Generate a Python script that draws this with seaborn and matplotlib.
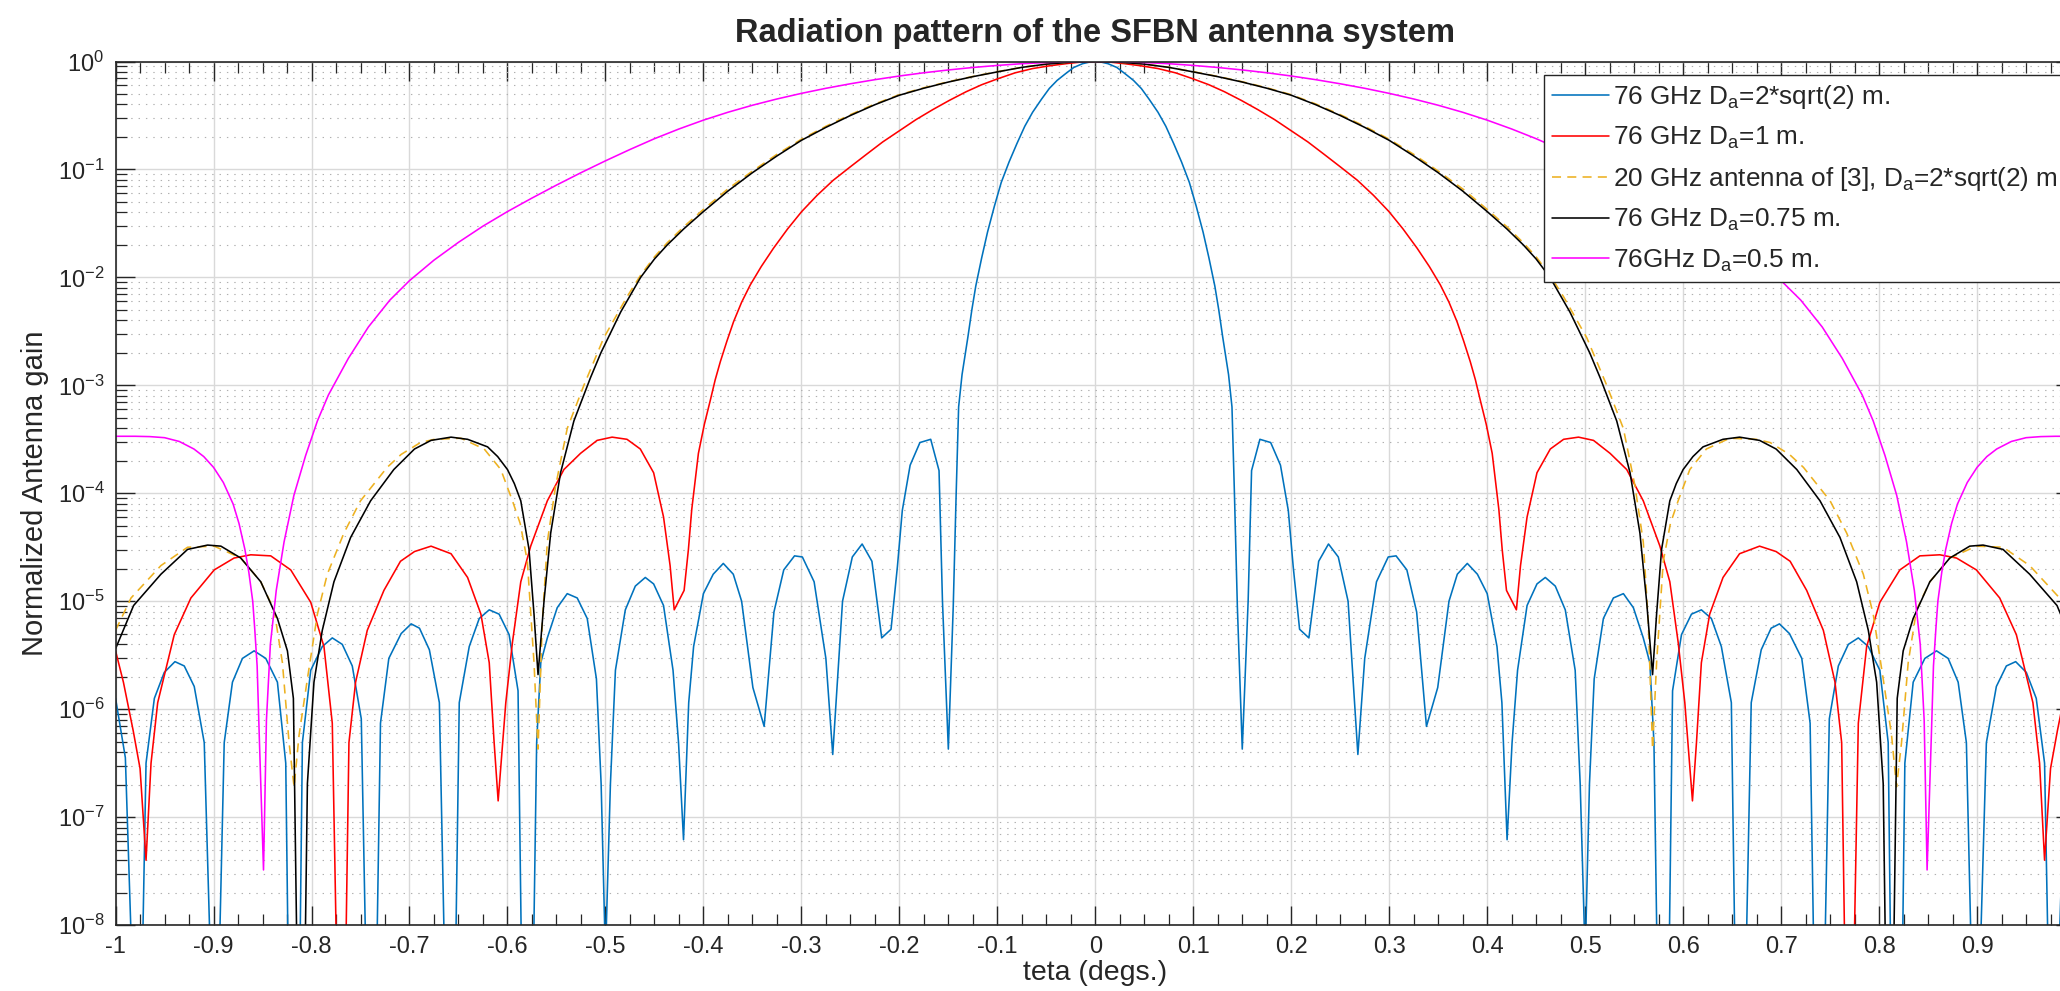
import numpy as np
import matplotlib
matplotlib.use("Agg")
import matplotlib.pyplot as plt
import seaborn as sns
from matplotlib.ticker import LogLocator, MultipleLocator, FuncFormatter

# Patterns are symmetric: values read for teta in [0, 1] deg, gain in dB (10*log10)
teta_blue = [0, 0.006, 0.013, 0.022, 0.030, 0.039, 0.047, 0.055, 0.064, 0.072,
             0.080, 0.088, 0.096, 0.103, 0.110, 0.116, 0.122, 0.126, 0.130, 0.136,
             0.1395, 0.142, 0.145, 0.150, 0.156, 0.1595, 0.168, 0.179, 0.189,
             0.197, 0.202, 0.2085, 0.218, 0.228, 0.238, 0.248, 0.258, 0.268, 0.275,
             0.287, 0.299, 0.307, 0.318, 0.328, 0.338, 0.3495, 0.361, 0.3695, 0.3797,
             0.39, 0.40, 0.41, 0.415, 0.4203, 0.4254, 0.431, 0.4407, 0.4508, 0.4593,
             0.4695, 0.4797, 0.4898, 0.4949, 0.500, 0.5044, 0.5092, 0.5186, 0.5288, 0.539,
             0.5492, 0.5593, 0.566, 0.5702, 0.5746, 0.5847, 0.5892, 0.5983, 0.6085, 0.6186,
             0.6288, 0.639, 0.6492, 0.654, 0.6627, 0.6695, 0.6797, 0.6898, 0.6983, 0.7085,
             0.7211, 0.7296, 0.7346, 0.7431, 0.7492, 0.7584, 0.7686, 0.7788, 0.789, 0.8008,
             0.8093, 0.8127, 0.8229, 0.8263, 0.8348, 0.8467, 0.8586, 0.8705, 0.8807, 0.8891,
             0.8959, 0.901, 0.9095, 0.9197, 0.9299, 0.9394, 0.9503, 0.9604, 0.9689, 0.974,
             0.981, 0.990, 1.0]
gain_blue = [0, -0.05, -0.2, -0.55, -1.1, -1.75, -2.5, -3.5, -4.7, -6.0,
             -7.6, -9.3, -11.2, -13.4, -15.8, -18.2, -20.8, -23.0, -25.5, -29.0,
             -32.0, -40.0, -50.5, -63.7, -50.0, -37.9, -35.0, -35.3, -37.4,
             -41.6, -46.8, -52.6, -53.4, -46.3, -44.7, -45.9, -50.0, -64.2, -55.3,
             -48.2, -45.9, -45.8, -47.1, -51.0, -61.6, -58.0, -50.0, -47.5, -46.5,
             -47.5, -49.3, -54.2, -59.4, -72.1, -63.1, -56.4, -50.4, -48.4, -47.8,
             -48.6, -50.8, -56.4, -66.9, -83.0, -66.9, -57.2, -51.6, -49.7, -49.3,
             -50.6, -53.4, -55.7, -63.1, -90, -90, -58.3, -53.1, -51.2, -50.8,
             -51.6, -54.2, -59.4, -90, -90, -59.4, -54.5, -52.5, -52.1, -53.0,
             -55.3, -61.3, -90, -90, -60.9, -56.0, -54.0, -53.4, -54.2, -56.4,
             -63.1, -90, -90, -65.0, -57.5, -55.3, -54.6, -55.3, -57.5, -63.1,
             -90, -90, -63.1, -57.9, -56.0, -55.6, -56.6, -59.0, -65.0, -90,
             -90, -64.5, -59.0]

teta_red = [0, 0.015, 0.030, 0.047, 0.064, 0.082, 0.0997, 0.116, 0.1319, 0.149,
            0.1658, 0.183, 0.1997, 0.217, 0.2336, 0.25, 0.2675, 0.284, 0.2997, 0.314,
            0.3285, 0.341, 0.3522, 0.361, 0.3692, 0.376, 0.3827, 0.388, 0.393, 0.399,
            0.4051, 0.4119, 0.4153, 0.4197, 0.4298, 0.434, 0.4407, 0.4508, 0.4644, 0.478,
            0.4932, 0.5085, 0.5254, 0.5424, 0.5593, 0.5763, 0.5864, 0.5949, 0.6017, 0.6095,
            0.6136, 0.6186, 0.6271, 0.6407, 0.6576, 0.678, 0.6949, 0.7092, 0.7261, 0.7431,
            0.755, 0.7618, 0.7662, 0.773, 0.7788, 0.7873, 0.8008, 0.8212, 0.8416, 0.862,
            0.879, 0.8993, 0.9231, 0.9401, 0.957, 0.9638, 0.9689, 0.975, 0.982, 0.992, 1.0]
gain_red = [0, -0.05, -0.2, -0.4, -0.65, -1.05, -1.6, -2.15, -2.8, -3.6,
            -4.45, -5.38, -6.4, -7.45, -8.6, -9.75, -11.0, -12.4, -13.9, -15.5,
            -17.3, -19.0, -20.7, -22.3, -24.1, -25.9, -27.8, -29.5, -31.4, -33.6,
            -36.3, -41.5, -45.2, -49.0, -50.8, -46.7, -42.2, -38.1, -35.9, -35.0,
            -34.8, -35.1, -36.3, -37.8, -40.7, -44.9, -48.2, -53.8, -59.4, -68.5,
            -63.1, -55.7, -51.2, -47.8, -45.6, -44.9, -45.4, -46.3, -49.0, -52.7,
            -57.5, -63.1, -90, -90, -61.3, -54.2, -50.1, -47.1, -45.8, -45.7,
            -46.0, -47.1, -49.7, -53.1, -59.4, -65.0, -74.0, -65.5, -62.0, -57.5, -54.6]

teta_yellow = [0, 0.025, 0.05, 0.075, 0.10, 0.125, 0.15, 0.175, 0.20, 0.225,
               0.25, 0.275, 0.30, 0.325, 0.35, 0.375, 0.40, 0.42, 0.437, 0.45,
               0.4641, 0.478, 0.5017, 0.522, 0.539, 0.5508, 0.5593, 0.5644, 0.5688, 0.5729,
               0.5797, 0.587, 0.5949, 0.6068, 0.6237, 0.6475, 0.6746, 0.6888, 0.7085, 0.7228,
               0.75, 0.767, 0.7839, 0.794, 0.8042, 0.8127, 0.8178, 0.8229, 0.8297, 0.8382,
               0.8518, 0.8722, 0.8993, 0.9265, 0.9537, 0.9842, 1.0]
gain_yellow = [0, -0.06, -0.24, -0.53, -0.94, -1.38, -1.87, -2.43, -3.07, -3.93,
               -4.92, -6.0, -7.2, -8.6, -10.15, -11.8, -13.7, -15.3, -16.8, -18.1,
               -19.8, -21.8, -25.6, -30.0, -34.0, -39.3, -44.5, -51.9, -63.7, -55.7,
               -46.3, -42.8, -40.7, -37.8, -35.9, -34.9, -35.0, -35.3, -36.4, -37.6,
               -40.7, -43.7, -47.5, -51.2, -57.2, -62.4, -67.2, -63.1, -55.7, -50.8,
               -48.2, -46.0, -44.9, -45.0, -46.7, -49.7, -52.7]

teta_black = [0, 0.025, 0.05, 0.075, 0.10, 0.125, 0.15, 0.175, 0.20, 0.225,
              0.25, 0.275, 0.30, 0.325, 0.35, 0.375, 0.40, 0.42, 0.437, 0.45,
              0.4641, 0.4844, 0.5047, 0.5153, 0.5322, 0.5458, 0.5559, 0.5627, 0.5688, 0.5729,
              0.578, 0.5864, 0.593, 0.60, 0.61, 0.6203, 0.6407, 0.6576, 0.678, 0.6949,
              0.716, 0.7397, 0.7601, 0.7771, 0.789, 0.7975, 0.8042, 0.8076, 0.8138, 0.8185,
              0.8246, 0.8348, 0.8518, 0.8722, 0.8925, 0.9061, 0.9265, 0.9537, 0.9816, 1.0]
gain_black = [0, -0.06, -0.24, -0.54, -0.96, -1.4, -1.9, -2.47, -3.12, -4.0,
              -5.0, -6.1, -7.3, -8.75, -10.3, -12.0, -13.9, -15.5, -17.0, -18.3,
              -20.0, -23.2, -27.0, -29.3, -33.3, -38.1, -43.7, -50.0, -56.8, -51.2,
              -45.2, -40.7, -39.1, -37.8, -36.6, -35.7, -35.0, -34.8, -35.1, -35.9,
              -37.8, -40.7, -44.1, -48.2, -52.7, -57.5, -66.9, -90, -90, -59.0,
              -54.6, -51.6, -48.2, -46.0, -44.9, -44.8, -45.2, -47.5, -50.4, -54.4]

teta_magenta = [0, 0.025, 0.05, 0.075, 0.1, 0.125, 0.15, 0.175, 0.2, 0.225,
                0.25, 0.275, 0.3, 0.325, 0.35, 0.375, 0.4, 0.425, 0.45, 0.475,
                0.5, 0.525, 0.55, 0.575, 0.6, 0.625, 0.65, 0.675, 0.7, 0.72,
                0.742, 0.7624, 0.7828, 0.794, 0.806, 0.818, 0.828, 0.836, 0.842, 0.846,
                0.849, 0.8535, 0.8555, 0.858, 0.86, 0.864, 0.868, 0.874, 0.88, 0.89,
                0.9, 0.91, 0.92, 0.935, 0.95, 0.965, 0.98, 1.0]
gain_magenta = [0, -0.02, -0.09, -0.2, -0.36, -0.55, -0.78, -1.04, -1.34, -1.68,
                -2.06, -2.48, -2.95, -3.47, -4.05, -4.7, -5.43, -6.25, -7.15, -8.15,
                -9.2, -10.3, -11.45, -12.65, -13.9, -15.25, -16.75, -18.4, -20.3, -22.1,
                -24.6, -27.5, -30.9, -33.3, -36.5, -40.2, -44.5, -49.0, -54.0, -61.0,
                -74.9, -62.0, -56.0, -52.5, -50.0, -47.3, -45.2, -42.8, -41.0, -39.0,
                -37.6, -36.6, -35.9, -35.2, -34.85, -34.75, -34.72, -34.72]

labels = ["76 GHz D$_\\mathregular{a}$=2*sqrt(2) m.",
          "76 GHz D$_\\mathregular{a}$=1 m.",
          "20 GHz antenna of [3], D$_\\mathregular{a}$=2*sqrt(2) m.",
          "76 GHz D$_\\mathregular{a}$=0.75 m.",
          "76GHz D$_\\mathregular{a}$=0.5 m."]
colors = ["#0072BD", "#FF0000", "#EDB120", "#000000", "#FF00FF"]


def mirror(teta, gain_db):
    t = np.asarray(teta, dtype=float)
    g = np.asarray(gain_db, dtype=float)
    tt = np.concatenate([-t[:0:-1], t])
    gg = np.concatenate([g[:0:-1], g])
    return tt, 10 ** (gg / 10)


series = [(teta_blue, gain_blue), (teta_red, gain_red), (teta_yellow, gain_yellow),
          (teta_black, gain_black), (teta_magenta, gain_magenta)]

sns.set_theme(style="ticks")
plt.rcParams["font.family"] = ["Liberation Sans", "DejaVu Sans"]
plt.rcParams["mathtext.fontset"] = "custom"
plt.rcParams["mathtext.rm"] = "Liberation Sans"
plt.rcParams["lines.scale_dashes"] = False

fig = plt.figure(figsize=(20.6, 9.91), dpi=100)
ax = fig.add_axes([0.0561, 0.0666, 0.9512, 0.8713])

for (t, g), lab, col in zip(series, labels, colors):
    xs, ys = mirror(t, g)
    ls = "--" if col == "#EDB120" else "-"
    sns.lineplot(x=xs, y=ys, ax=ax, color=col, linewidth=1.15, label=lab,
                 sort=False, estimator=None, linestyle=ls)
    if ls == "--":
        ax.lines[-1].set_dashes([6.5, 4.5])

ax.set_yscale("log")
ax.set_xlim(-1, 1)
ax.set_ylim(1e-8, 1)


def xfmt(v, p):
    if v > 0.99:
        return ""
    return f"{round(v, 2) + 0:g}"


ax.xaxis.set_major_locator(MultipleLocator(0.1))
ax.xaxis.set_minor_locator(MultipleLocator(0.025))
ax.xaxis.set_major_formatter(FuncFormatter(xfmt))
ax.yaxis.set_major_locator(LogLocator(base=10, numticks=20))
ax.yaxis.set_minor_locator(LogLocator(base=10, subs=np.arange(2, 10) * 1.0, numticks=100))

ax.grid(True, which="major", color="#d9d9d9", linewidth=1.0)
ax.yaxis.grid(True, which="minor", color="#b0b0b0", linewidth=0.8, linestyle=(0, (1, 4.3)))
ax.set_axisbelow(True)

ax.tick_params(axis="both", which="major", direction="in", length=14, width=1.0,
               top=True, right=True, labelsize=17, pad=8, colors="#262626")
ax.tick_params(axis="both", which="minor", direction="in", length=8, width=0.9,
               top=True, right=True, colors="#262626")
for sp in ax.spines.values():
    sp.set_color("#262626")
    sp.set_linewidth(1.2)

ax.set_title("Radiation pattern of the SFBN antenna system", fontsize=23.5,
             fontweight="bold", pad=14)
ax.set_xlabel("teta (degs.)", fontsize=20.5, color="#262626")
ax.set_ylabel("Normalized Antenna gain", fontsize=21, color="#262626")
ax.xaxis.set_label_coords(0.5, -0.041)
ax.yaxis.set_label_coords(-0.034, 0.5)

leg = ax.legend(loc="upper left", bbox_to_anchor=(0.729, 0.9844), borderaxespad=0,
                fontsize=18.8, frameon=True, fancybox=False, framealpha=1,
                edgecolor="#262626", handlelength=2.2, handletextpad=0.15,
                labelspacing=0.53, borderpad=0.3)
leg.get_frame().set_linewidth(1.0)

fig.savefig("out.png", dpi=100)
